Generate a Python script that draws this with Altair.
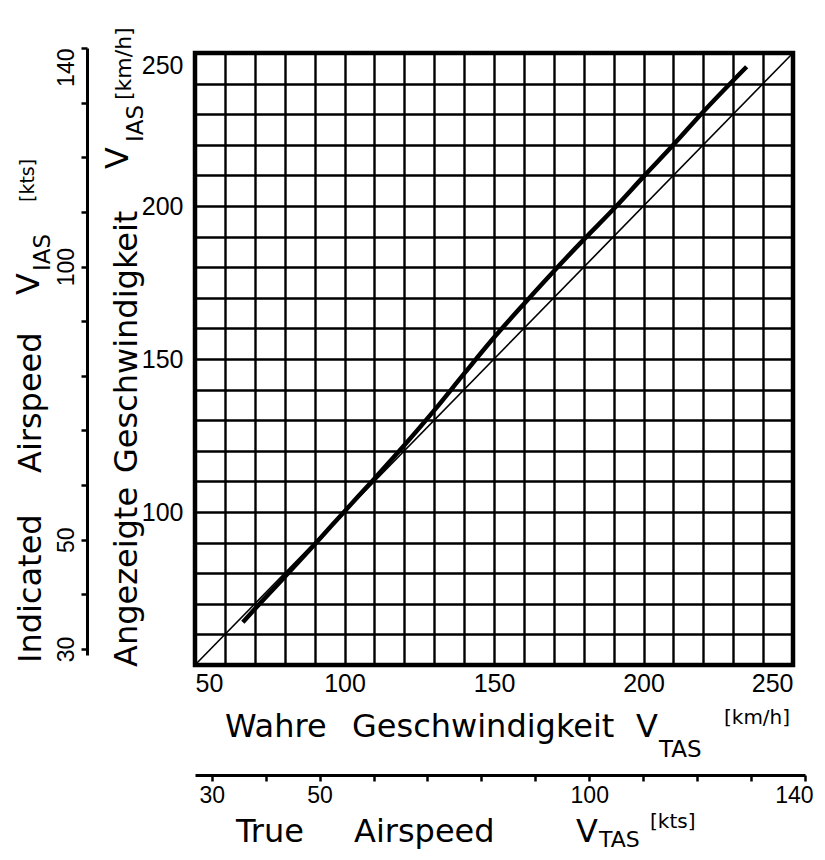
import altair as alt
import pandas as pd

# ---- data ----
tas_kmh = [66, 70, 80, 90, 100, 110, 120, 130, 140, 150, 160, 170, 180, 190, 200, 210, 220, 234.5]
ias_kmh = [64, 68.3, 78.8, 89.4, 100.2, 110.9, 121.8, 133.2, 145.2, 157, 168, 178.7, 189, 199, 209.6, 220, 230.8, 245.5]
ref_tas = [50, 250]
ref_ias = [50, 250]
kmh_ticks = list(range(50, 251, 10))
kts_ticks = list(range(30, 141, 10))
kts_labels = [30, 50, 100, 140]

W, H = 598, 612
LABEL_FONT = "Liberation Sans"
TITLE_FONT = "DejaVu Sans"

curve_df = pd.DataFrame({"tas": tas_kmh, "ias": ias_kmh})
ref_df = pd.DataFrame({"tas": ref_tas, "ias": ref_ias})
kts_df = pd.DataFrame({"kts": kts_ticks})

kts_expr = "indexof([" + ",".join(str(v) for v in kts_labels) + "], datum.value) >= 0 ? datum.label : ''"

x_kmh = alt.X(
    "tas:Q",
    scale=alt.Scale(domain=[50, 250], nice=False, zero=False),
    axis=alt.Axis(
        values=kmh_ticks, labelExpr="datum.value % 50 == 0 ? datum.label : ''",
        grid=True, gridColor="black", gridWidth=2.4, gridOpacity=1,
        ticks=False, tickSize=0, domain=False, labelFlush=True, labelOverlap=False,
        labelFont=LABEL_FONT, labelFontSize=25, labelColor="black", labelPadding=6,
        title=None,
    ),
)
y_kmh = alt.Y(
    "ias:Q",
    scale=alt.Scale(domain=[50, 250], nice=False, zero=False),
    axis=alt.Axis(
        values=kmh_ticks,
        labelExpr="datum.value % 50 == 0 && datum.value > 50 ? datum.label : ''",
        grid=True, gridColor="black", gridWidth=2.4, gridOpacity=1,
        ticks=False, tickSize=0, domain=False, labelFlush=True, labelOverlap=False,
        labelFont=LABEL_FONT, labelFontSize=25, labelColor="black", labelPadding=12,
        title=None,
    ),
)

ref_line = alt.Chart(ref_df).mark_line(color="black", strokeWidth=1.6).encode(x=x_kmh, y=y_kmh)
curve = alt.Chart(curve_df).mark_line(
    color="black", strokeWidth=4.5, interpolate="monotone"
).encode(x=x_kmh, y=y_kmh)
main = alt.layer(ref_line, curve)

kts_layer = alt.Chart(kts_df).mark_point(opacity=0).encode(
    x=alt.X(
        "kts:Q",
        scale=alt.Scale(domain=[26.9, 140], range=[0, 610], nice=False, zero=False),
        axis=alt.Axis(
            orient="bottom", offset=110, values=kts_ticks, labelExpr=kts_expr,
            grid=False, domainColor="black", domainWidth=3, tickColor="black",
            tickWidth=2.5, tickSize=6, labelFlush=True, labelFlushOffset=8,
            labelOverlap=False, labelFont=LABEL_FONT, labelFontSize=23,
            labelColor="black", labelPadding=3, title=None,
        ),
    ),
    y=alt.Y(
        "kts:Q",
        scale=alt.Scale(domain=[28.9, 140], range=[602, -5], nice=False, zero=False),
        axis=alt.Axis(
            orient="left", offset=108, values=kts_ticks, labelExpr=kts_expr,
            grid=False, domainColor="black", domainWidth=3, tickColor="black",
            tickWidth=2.5, tickSize=6, labelAngle=270, labelFlush=False,
            labelAlign={"condition": {"test": "datum.value == 140", "value": "right"},
                        "value": "center"},
            labelOverlap=False, labelFont=LABEL_FONT, labelFontSize=23,
            labelColor="black", labelPadding=3, title=None,
        ),
    ),
)

one = pd.DataFrame({"a": [0]})


def piece(text, px, py, size, angle=0):
    # px, py are positions relative to the plot area origin
    kw = dict(text=text, font=TITLE_FONT, fontSize=size, color="black",
              align="left", baseline="alphabetic")
    if angle:
        kw["angle"] = angle
    return alt.Chart(one).mark_text(**kw).encode(x=alt.value(px), y=alt.value(py))


OX, OY = 195, 53
titles = [
    # left title 1 (kts)
    piece("Indicated", 41 - OX, 663 - OY, 32, 270),
    piece("Airspeed", 41 - OX, 473 - OY, 32, 270),
    piece("V", 39 - OX, 295 - OY, 32, 270),
    piece("IAS", 50 - OX, 271 - OY, 23, 270),
    piece("[kts]", 34 - OX, 202 - OY, 19, 270),
    # left title 2 (km/h)
    piece("Angezeigte", 137 - OX, 667 - OY, 32, 270),
    piece("Geschwindigkeit", 137 - OX, 473 - OY, 32, 270),
    piece("V", 128 - OX, 169 - OY, 32, 270),
    piece("IAS", 143 - OX, 142 - OY, 23, 270),
    piece("[km/h]", 131 - OX, 100 - OY, 22, 270),
    # bottom title 1 (km/h)
    piece("Wahre", 225 - OX, 737 - OY, 32),
    piece("Geschwindigkeit", 352 - OX, 737 - OY, 32),
    piece("V", 636 - OX, 737 - OY, 32),
    piece("TAS", 659 - OX, 757 - OY, 23),
    piece("[km/h]", 724 - OX, 724 - OY, 20),
    # bottom title 2 (kts)
    piece("True", 236 - OX, 842 - OY, 32),
    piece("Airspeed", 354 - OX, 842 - OY, 32),
    piece("V", 576 - OX, 842 - OY, 32),
    piece("TAS", 599 - OX, 847 - OY, 22),
    piece("[kts]", 650 - OX, 828 - OY, 20),
]

chart = alt.layer(main, kts_layer, *titles).resolve_scale(
    x="independent", y="independent"
).properties(
    width=W, height=H,
    background="white",
    padding={"left": 187, "top": 45, "right": 22, "bottom": 187},
    autosize=alt.AutoSizeParams(type="none"),
).configure_view(
    stroke="black", strokeWidth=4.5
)

chart.save("out.html", embed_options={"renderer": "svg", "actions": False})
